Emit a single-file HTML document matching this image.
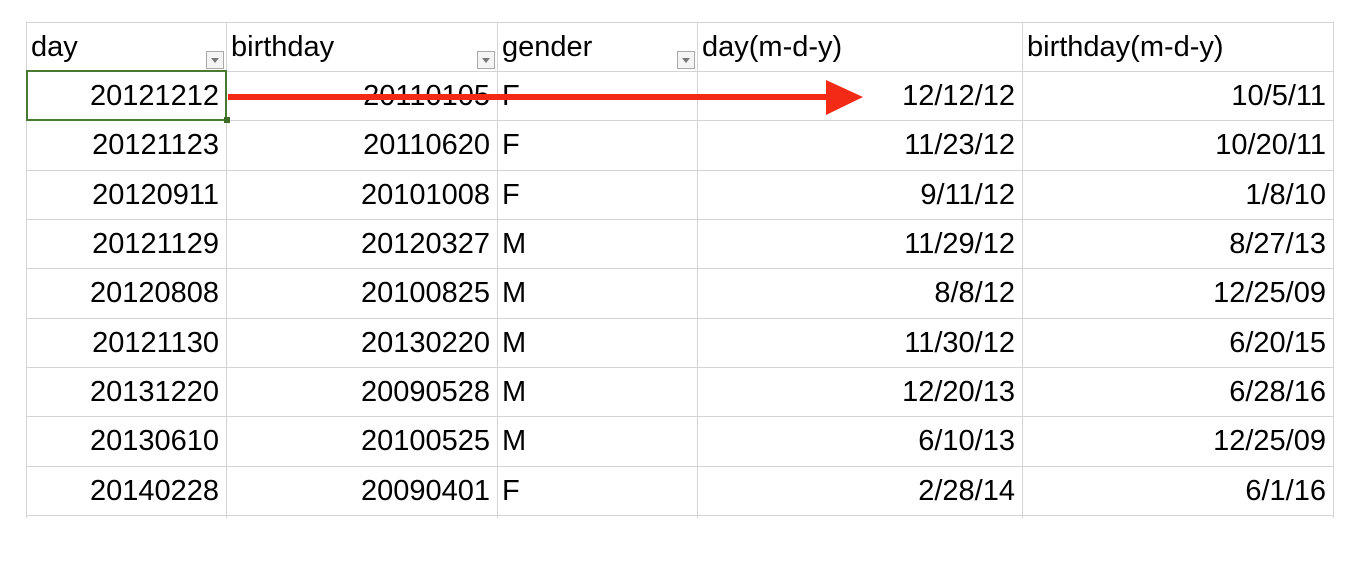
<!DOCTYPE html>
<html><head><meta charset="utf-8"><style>
body{margin:0;width:1355px;height:572px;background:#fff;position:relative;overflow:hidden;font-family:"Liberation Sans",sans-serif;}
.c{position:absolute;font-size:29px;color:#000;line-height:49px;white-space:nowrap;}
.r{text-align:right;}
.vl{position:absolute;width:1px;background:#d4d4d4;top:22px;height:496px;}
.hl{position:absolute;height:1px;background:#d4d4d4;left:26px;width:1308px;}
.dd{position:absolute;width:18px;height:18px;border:1px solid #aaa;background:#f4f4f4;box-sizing:border-box;}
.dd:after{content:"";position:absolute;left:4px;top:6px;border-left:4px solid transparent;border-right:4px solid transparent;border-top:5px solid #777;}
</style></head><body>
<div id="grid"></div>
<svg width="1355" height="572" style="position:absolute;left:0;top:0">
<line x1="228" y1="97" x2="832" y2="97" stroke="#f22a16" stroke-width="6"/>
<polygon points="826,80 863,97 826,115" fill="#f22a16"/>
</svg>
<script>
const cols=[26,226,497,697,1022,1333];
const rows=[22,71,120,170,219,268,318,367,416,466,515];
const headers=["day","birthday","gender","day(m-d-y)","birthday(m-d-y)"];
const data=[
["20121212","20110105","F","12/12/12","10/5/11"],
["20121123","20110620","F","11/23/12","10/20/11"],
["20120911","20101008","F","9/11/12","1/8/10"],
["20121129","20120327","M","11/29/12","8/27/13"],
["20120808","20100825","M","8/8/12","12/25/09"],
["20121130","20130220","M","11/30/12","6/20/15"],
["20131220","20090528","M","12/20/13","6/28/16"],
["20130610","20100525","M","6/10/13","12/25/09"],
["20140228","20090401","F","2/28/14","6/1/16"]];
const g=document.getElementById('grid');
cols.forEach(x=>{const d=document.createElement('div');d.className='vl';d.style.left=x+'px';

g.appendChild(d);});
rows.forEach(y=>{const d=document.createElement('div');d.className='hl';d.style.top=y+'px';

g.appendChild(d);});
headers.forEach((h,i)=>{const d=document.createElement('div');d.className='c';
d.style.left=(cols[i]+5)+'px';d.style.top=(rows[0]+1)+'px';d.textContent=h;

g.appendChild(d);
if(i<3){const b=document.createElement('div');b.className='dd';b.style.left=(cols[i+1]-20)+'px';b.style.top=(rows[0]+29)+'px';

g.appendChild(b);}});
data.forEach((row,ri)=>{row.forEach((v,ci)=>{const d=document.createElement('div');d.className='c'+(ci==2?'':' r');
if(ci==2){d.style.left=(cols[ci]+5)+'px';}else{d.style.left=cols[ci]+'px';d.style.width=(cols[ci+1]-cols[ci]-7)+'px';}
d.style.top=(rows[ri+1]+1)+'px';d.textContent=v;

g.appendChild(d);});});
const s=document.createElement('div');s.style.cssText='position:absolute;left:26px;top:70px;width:201px;height:51px;border:2px solid #4a7a32;box-sizing:border-box;';

g.appendChild(s);
const h=document.createElement('div');h.style.cssText='position:absolute;left:224px;top:117px;width:6px;height:6px;background:#3f6b28;';

g.appendChild(h);
</script>
</body></html>
